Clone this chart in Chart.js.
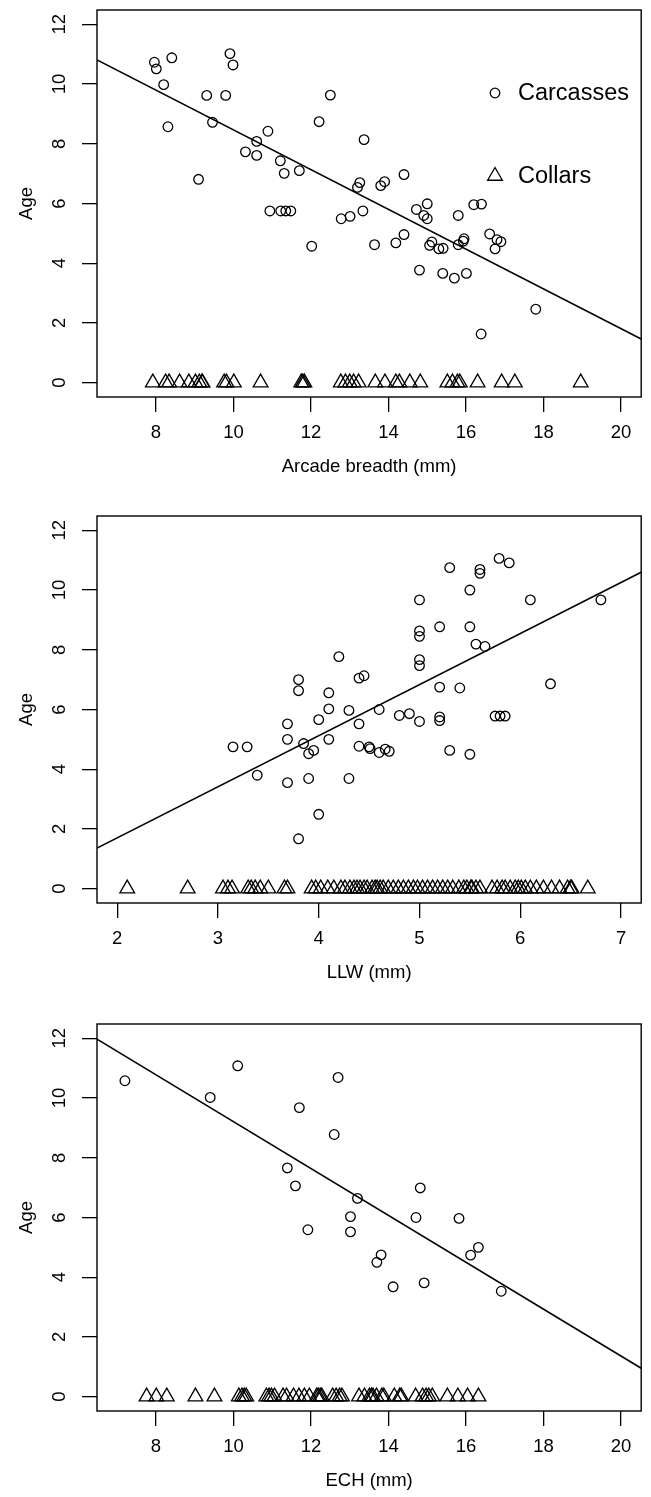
<!DOCTYPE html>
<html>
<head>
<meta charset="utf-8">
<script src="https://cdn.jsdelivr.net/npm/chart.js@4/dist/chart.umd.min.js"></script>
<style>
html,body{margin:0;padding:0;background:#fff;overflow:hidden;width:651px;height:1497px;}
canvas{position:absolute;left:0;}
</style>
</head>
<body>
<canvas id="c1" width="651" height="490" style="top:0px"></canvas>
<canvas id="c2" width="651" height="490" style="top:506px"></canvas>
<canvas id="c3" width="651" height="490" style="top:1014px"></canvas>
<script>
// ---------- Data ----------
const seriesNames = ["Carcasses", "Collars"];
const yTicks = [0, 2, 4, 6, 8, 10, 12];
const yTitle = "Age";

// Panel 1: Arcade breadth
const p1Title = "Arcade breadth (mm)";
const p1Ticks = [8, 10, 12, 14, 16, 18, 20];
const p1CarcX = [7.96, 8.01, 8.41, 8.20, 8.31, 9.91, 9.99, 9.31, 9.80, 9.46, 10.89, 10.60, 10.31, 10.60, 9.10, 11.21, 11.31, 11.70, 12.21, 12.50, 13.37, 13.26, 13.20, 10.94, 11.22, 11.35, 11.48, 12.02, 12.78, 13.01, 13.34, 14.40, 13.90, 13.80, 15.00, 16.20, 16.40, 14.72, 14.91, 15.00, 15.80, 14.40, 14.19, 13.64, 15.12, 15.06, 15.30, 15.41, 15.80, 15.95, 15.93, 16.61, 16.80, 16.90, 16.75, 14.80, 15.40, 15.70, 16.01, 17.80, 16.39];
const p1CarcAge = [10.73, 10.51, 10.88, 9.98, 8.57, 11.02, 10.64, 9.62, 9.62, 8.72, 8.42, 8.08, 7.73, 7.61, 6.81, 7.43, 7.01, 7.10, 8.74, 9.63, 8.14, 6.70, 6.54, 5.75, 5.75, 5.75, 5.75, 4.57, 5.49, 5.57, 5.75, 6.97, 6.73, 6.60, 5.99, 5.96, 5.98, 5.80, 5.60, 5.49, 5.60, 4.96, 4.68, 4.62, 4.71, 4.60, 4.48, 4.50, 4.62, 4.82, 4.74, 4.98, 4.79, 4.72, 4.48, 3.77, 3.66, 3.50, 3.66, 2.46, 1.63];
const p1CollarX = [7.92, 8.25, 8.34, 8.61, 8.85, 9.02, 9.12, 9.19, 9.20, 9.76, 9.82, 10.01, 10.70, 11.75, 11.79, 11.83, 12.77, 12.89, 13.00, 13.10, 13.23, 13.66, 13.91, 14.19, 14.28, 14.55, 14.82, 15.52, 15.65, 15.78, 15.84, 16.30, 16.92, 17.26, 18.96];
const p1FitIntercept = 15.12;
const p1FitSlope = -0.6655;

// Panel 2: LLW
const p2Title = "LLW (mm)";
const p2Ticks = [2, 3, 4, 5, 6, 7];
const p2CarcX = [4.20, 3.80, 3.80, 4.10, 4.40, 4.45, 5.79, 5.89, 5.30, 5.60, 5.60, 5.50, 5.00, 6.10, 6.80, 5.20, 5.50, 5.00, 5.00, 5.56, 5.65, 5.00, 5.00, 5.20, 5.40, 6.30, 3.15, 3.29, 3.39, 3.69, 3.69, 3.69, 3.80, 3.85, 3.90, 3.95, 3.90, 4.00, 4.00, 4.10, 4.10, 4.30, 4.40, 4.40, 4.30, 4.60, 4.80, 4.90, 5.00, 5.20, 5.20, 5.75, 5.80, 5.85, 4.50, 4.51, 4.60, 4.66, 4.70, 5.30, 5.50];
const p2CarcAge = [7.77, 7.00, 6.63, 6.56, 7.05, 7.13, 11.06, 10.91, 10.75, 10.69, 10.56, 10.00, 9.67, 9.67, 9.67, 8.77, 8.77, 8.63, 8.45, 8.19, 8.11, 7.67, 7.47, 6.75, 6.72, 6.86, 4.75, 4.75, 3.80, 5.52, 5.00, 3.55, 1.67, 4.86, 4.52, 4.63, 3.69, 2.49, 5.66, 6.02, 5.00, 5.97, 5.52, 4.77, 3.69, 6.00, 5.80, 5.86, 5.60, 5.75, 5.63, 5.78, 5.78, 5.78, 4.75, 4.69, 4.56, 4.67, 4.60, 4.63, 4.50];
const p2CollarX = [2.10, 2.70, 3.05, 3.10, 3.14, 3.30, 3.33, 3.37, 3.42, 3.50, 3.66, 3.69, 3.93, 3.97, 4.02, 4.09, 4.15, 4.22, 4.26, 4.31, 4.35, 4.38, 4.41, 4.45, 4.48, 4.53, 4.56, 4.58, 4.61, 4.64, 4.69, 4.74, 4.79, 4.84, 4.89, 4.94, 4.98, 5.03, 5.08, 5.13, 5.18, 5.23, 5.28, 5.33, 5.39, 5.44, 5.47, 5.51, 5.52, 5.56, 5.60, 5.72, 5.77, 5.82, 5.85, 5.90, 5.95, 5.98, 6.01, 6.05, 6.10, 6.16, 6.23, 6.31, 6.39, 6.47, 6.50, 6.51, 6.67];
const p2FitIntercept = -1.72;
const p2FitSlope = 1.711;

// Panel 3: ECH
const p3Title = "ECH (mm)";
const p3Ticks = [8, 10, 12, 14, 16, 18, 20];
const p3CarcX = [7.20, 10.11, 9.40, 12.70, 11.70, 12.60, 11.39, 11.60, 13.20, 14.82, 11.92, 13.02, 13.02, 14.71, 15.82, 13.81, 13.70, 14.12, 14.92, 16.32, 16.12, 16.91];
const p3CarcAge = [10.58, 11.08, 10.02, 10.69, 9.68, 8.78, 7.66, 7.06, 6.64, 6.99, 5.59, 6.03, 5.52, 6.00, 5.97, 4.75, 4.50, 3.68, 3.81, 5.00, 4.74, 3.53];
const p3CollarX = [7.76, 8.01, 8.28, 9.02, 9.51, 10.14, 10.22, 10.28, 10.33, 10.85, 10.92, 10.98, 11.06, 11.28, 11.37, 11.55, 11.69, 11.83, 11.96, 12.15, 12.19, 12.24, 12.28, 12.56, 12.65, 12.74, 12.80, 13.24, 13.38, 13.51, 13.56, 13.60, 13.69, 13.83, 13.88, 14.15, 14.29, 14.33, 14.70, 14.88, 14.97, 15.04, 15.13, 15.52, 15.79, 16.04, 16.32];
const p3FitIntercept = 17.06;
const p3FitSlope = -0.785;

// Axis limits (R default 4% extension)
const p1XLim = [7, 20];
const p2XLim = [2, 7];
const p3XLim = [7, 20];
const yLim = [0, 12];

// ---------- Rendering ----------
const FONT = "'Liberation Sans', Arial, Helvetica, sans-serif";
Chart.defaults.font.family = FONT;
Chart.defaults.color = '#000';

function ext(lim) { const d = (lim[1] - lim[0]) * 0.04; return [lim[0] - d, lim[1] + d]; }

const boxPlugin = {
  id: 'rbox',
  afterDraw(chart) {
    const {ctx, chartArea: a} = chart;
    ctx.save();
    ctx.strokeStyle = '#000';
    ctx.lineWidth = 1.4;
    ctx.strokeRect(a.left, a.top, a.right - a.left, a.bottom - a.top);
    ctx.restore();
  }
};

const legendPlugin = {
  id: 'rlegend',
  afterDraw(chart, args, opts) {
    if (!opts || !opts.show) return;
    const ctx = chart.ctx;
    ctx.save();
    opts.items.forEach(it => {
      ctx.strokeStyle = '#000';
      ctx.lineWidth = 1.3;
      ctx.beginPath();
      if (it.style === 'circle') {
        ctx.arc(opts.x, it.y, 4.8, 0, Math.PI * 2);
      } else {
        const r = 8.5;
        ctx.moveTo(opts.x, it.y - r);
        ctx.lineTo(opts.x + r * 0.866, it.y + r * 0.5);
        ctx.lineTo(opts.x - r * 0.866, it.y + r * 0.5);
        ctx.closePath();
      }
      ctx.stroke();
      ctx.fillStyle = '#000';
      ctx.font = opts.fontSize + 'px ' + FONT;
      ctx.textAlign = 'left';
      ctx.textBaseline = 'middle';
      ctx.fillText(it.text, opts.textX, it.y + 1);
    });
    ctx.restore();
  }
};

function makeChart(id, xTitle, xTicks, xLim, carcX, carcY, collarX, b0, b1, showLegend) {
  const xr = ext(xLim), yr = ext(yLim);
  const carc = carcX.map((x, i) => ({x: x, y: carcY[i]}));
  const coll = collarX.map(x => ({x: x, y: 0}));
  const fit = [xr[0], xr[1]].map(x => ({x: x, y: b0 + b1 * x}));
  return new Chart(document.getElementById(id), {
    type: 'scatter',
    data: {
      datasets: [
        {label: seriesNames[0], data: carc, pointStyle: 'circle', pointRadius: 4.8, pointBorderWidth: 1.3,
         borderColor: '#000', backgroundColor: 'rgba(0,0,0,0)', pointHoverRadius: 4.8},
        {label: seriesNames[1], data: coll, pointStyle: 'triangle', pointRadius: 8.5, pointBorderWidth: 1.3,
         borderColor: '#000', backgroundColor: 'rgba(0,0,0,0)', pointHoverRadius: 8.5},
        {label: 'fit', type: 'line', data: fit, borderColor: '#000', borderWidth: 1.6, pointRadius: 0,
         fill: false, tension: 0}
      ]
    },
    options: {
      responsive: false,
      animation: false,
      events: [],
      layout: {padding: {top: 10, right: 3, bottom: 0, left: 0}},
      plugins: {
        legend: {display: false},
        tooltip: {enabled: false},
        rlegend: {show: showLegend, x: 495, textX: 518, fontSize: 23.5,
          items: [{style: 'circle', y: 93, text: seriesNames[0]}, {style: 'triangle', y: 176, text: seriesNames[1]}]}
      },
      scales: {
        x: {
          type: 'linear', min: xr[0], max: xr[1],
          afterBuildTicks: s => { s.ticks = xTicks.map(v => ({value: v})); },
          afterFit: s => { s.height = 93; s.paddingLeft = 0; s.paddingRight = 0; },
          grid: {display: true, drawOnChartArea: false, drawTicks: true, tickLength: 15, color: '#000', tickColor: '#000', lineWidth: 1.3},
          border: {display: false},
          ticks: {autoSkip: false, maxRotation: 0, minRotation: 0, padding: 10, font: {size: 18.5}, color: '#000'},
          title: {display: true, text: xTitle, font: {size: 18.5}, color: '#000', padding: {top: 0, bottom: 12}}
        },
        y: {
          type: 'linear', min: yr[0], max: yr[1],
          afterBuildTicks: s => { s.ticks = yTicks.map(v => ({value: v})); },
          afterFit: s => { s.width = 97; s.paddingTop = 0; s.paddingBottom = 0; },
          grid: {display: true, drawOnChartArea: false, drawTicks: true, tickLength: 15, color: '#000', tickColor: '#000', lineWidth: 1.3},
          border: {display: false},
          ticks: {autoSkip: false, minRotation: 90, maxRotation: 90, crossAlign: 'center', padding: 12, font: {size: 18.5}, color: '#000'},
          title: {display: true, text: yTitle, font: {size: 18.5}, color: '#000', padding: {top: 16, bottom: 0}}
        }
      }
    },
    plugins: [boxPlugin, legendPlugin]
  });
}

makeChart('c1', p1Title, p1Ticks, p1XLim, p1CarcX, p1CarcAge, p1CollarX, p1FitIntercept, p1FitSlope, true);
makeChart('c2', p2Title, p2Ticks, p2XLim, p2CarcX, p2CarcAge, p2CollarX, p2FitIntercept, p2FitSlope, false);
makeChart('c3', p3Title, p3Ticks, p3XLim, p3CarcX, p3CarcAge, p3CollarX, p3FitIntercept, p3FitSlope, false);
</script>
</body>
</html>
